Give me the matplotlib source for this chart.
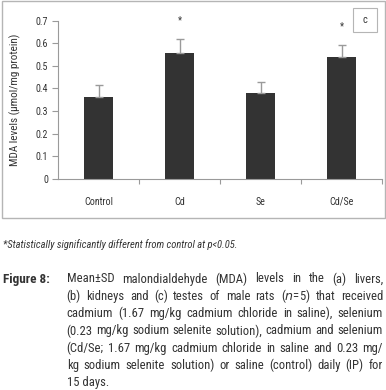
import matplotlib
matplotlib.use('Agg')
import matplotlib.pyplot as plt
from matplotlib.patches import Rectangle

plt.rcParams['font.family'] = ['Roboto Condensed', 'DejaVu Sans']

# data
groups = ['Control', 'Cd', 'Se', 'Cd/Se']
mda_mean = [0.36, 0.556, 0.378, 0.541]
mda_sd = [0.055, 0.062, 0.05, 0.051]
significant = [False, True, False, True]
yticks = [0, 0.1, 0.2, 0.3, 0.4, 0.5, 0.6, 0.7]

footnote = '*Statistically significantly different from control at p<0.05.'
caption_lines = [
    'Mean\u00b1SD malondialdehyde (MDA) levels in the (a) livers,',
    '(b) kidneys and (c) testes of male rats (n=5) that received',
    'cadmium (1.67 mg/kg cadmium chloride in saline), selenium',
    '(0.23 mg/kg sodium selenite solution), cadmium and selenium',
    '(Cd/Se; 1.67 mg/kg cadmium chloride in saline and 0.23 mg/',
    'kg sodium selenite solution) or saline (control) daily (IP) for',
    '15 days.',
]

W, H = 386, 390
fig = plt.figure(figsize=(W / 100, H / 100), dpi=100)
fig.patch.set_facecolor('white')
txt = '#333333'
grey = '#9a9a9a'

def fx(px):
    return px / W

def fy(py):
    return 1 - py / H

# outer frame of the chart panel
fig.patches.append(Rectangle((fx(2), fy(218)), fx(383), fy(1) - fy(218),
                             transform=fig.transFigure, fill=False,
                             edgecolor='#b5b5b5', linewidth=1.0))

ax = fig.add_axes([fx(58), fy(178.7), fx(382) - fx(58), fy(20.7) - fy(178.7)])
x = list(range(len(groups)))
ax.bar(x, mda_mean, width=0.36, color='#333333', zorder=2)
ax.errorbar(x, mda_mean, yerr=[[0] * len(x), mda_sd], fmt='none',
            ecolor=grey, elinewidth=1.0, capsize=3, capthick=1.0, zorder=3)
for i in x:
    if significant[i]:
        ax.text(i, mda_mean[i] + mda_sd[i] + 0.082, '*', ha='center', va='center',
                fontsize=7, color=txt)

ax.set_xlim(-0.5, len(groups) - 0.5)
ax.set_ylim(0, 0.7)
ax.set_yticks(yticks)
ax.set_yticklabels([('%g' % v) for v in yticks])
ax.set_xticks([i + 0.5 for i in range(len(groups))])
ax.set_xticklabels([])
ax.set_xticks(x, minor=True)
ax.set_xticklabels(groups, minor=True)
ax.tick_params(axis='x', which='minor', length=0, pad=13, labelsize=7.2, labelcolor=txt)
ax.tick_params(axis='x', which='major', length=3.5, color=grey, direction='out')
ax.tick_params(axis='y', length=4, color=grey, pad=3, labelsize=7.2, labelcolor=txt)
for s in ['top', 'right']:
    ax.spines[s].set_visible(False)
for s in ['left', 'bottom']:
    ax.spines[s].set_color(grey)
    ax.spines[s].set_linewidth(0.8)
fig.text(fx(15), fy(100), 'MDA levels (\u03bcmol/mg protein)', rotation=90,
         ha='center', va='center', fontsize=8, color=txt)

# panel letter box
fig.patches.append(Rectangle((fx(352.7), fy(31.7)), fx(376.7) - fx(352.7), fy(8.3) - fy(31.7),
                             transform=fig.transFigure, fill=False,
                             edgecolor='#b5b5b5', linewidth=0.8))
fig.text(fx(364.7), fy(20), 'c', ha='center', va='center', fontsize=7.5, color=txt)

# footnote
fig.text(fx(3), fy(245), footnote, ha='left', va='center', fontsize=7.6,
         style='italic', color=txt)

# caption, justified by hand
fig.text(fx(3), fy(279), 'Figure 8:', ha='left', va='center', fontsize=9.5,
         weight='bold', color=txt)

renderer = fig.canvas.get_renderer()
left, right = 66.7, 383.0
line_gap = 17.3
cap_size = 9.1
for k, line in enumerate(caption_lines):
    y = fy(279 + k * line_gap)
    if k == len(caption_lines) - 1:
        fig.text(fx(left), y, line, ha='left', va='center', fontsize=cap_size, color=txt)
        continue
    words = line.split(' ')
    arts = []
    for w in words:
        if w == '(n=5)':
            w = '($\\it{n}$=5)'
        arts.append(fig.text(0, y, w, ha='left', va='center', fontsize=cap_size, color=txt))
    widths = [t.get_window_extent(renderer).width for t in arts]
    gap = (right - left - sum(widths)) / (len(words) - 1)
    pos = left
    for t, wd in zip(arts, widths):
        t.set_x(fx(pos))
        pos += wd + gap

fig.savefig('out.png', dpi=100, facecolor='white')
